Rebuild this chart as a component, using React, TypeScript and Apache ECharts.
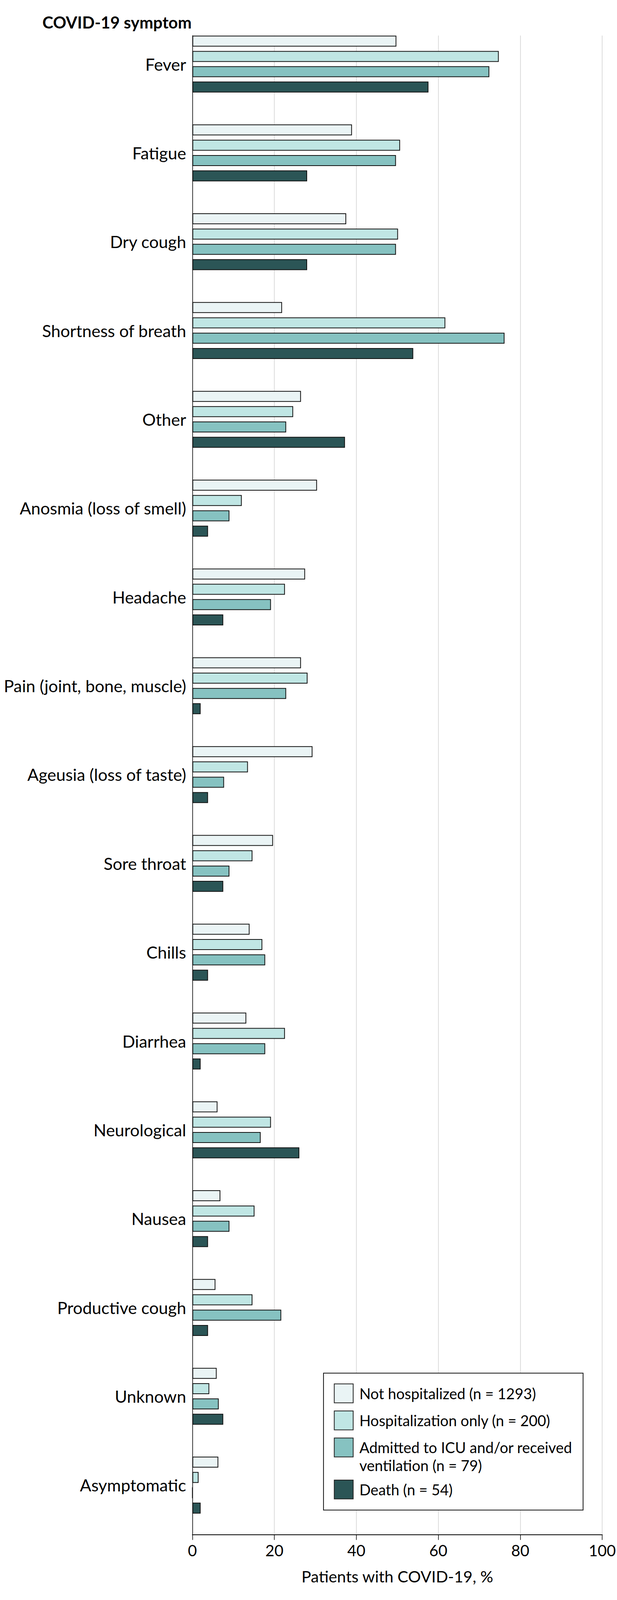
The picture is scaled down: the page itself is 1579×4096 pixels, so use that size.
import React, { useEffect, useRef } from "react";
import * as echarts from "echarts";

const S = 1579 / 1892;

const categories = [
  "Fever",
  "Fatigue",
  "Dry cough",
  "Shortness of breath",
  "Other",
  "Anosmia (loss of smell)",
  "Headache",
  "Pain (joint, bone, muscle)",
  "Ageusia (loss of taste)",
  "Sore throat",
  "Chills",
  "Diarrhea",
  "Neurological",
  "Nausea",
  "Productive cough",
  "Unknown",
  "Asymptomatic",
];

const notHospitalized = [49.6, 38.8, 37.4, 21.8, 26.4, 30.3, 27.4, 26.4, 29.2, 19.6, 13.9, 13.1, 6.1, 6.8, 5.6, 5.9, 6.3];
const hospitalizationOnly = [74.5, 50.5, 50.0, 61.5, 24.5, 12.0, 22.5, 28.0, 13.5, 14.6, 17.0, 22.5, 19.1, 15.1, 14.6, 4.1, 1.5];
const icuOrVentilation = [72.2, 49.5, 49.5, 75.9, 22.8, 9.0, 19.1, 22.8, 7.7, 9.0, 17.7, 17.7, 16.6, 9.0, 21.6, 6.4, 0];
const death = [57.4, 27.9, 27.9, 53.7, 37.1, 3.8, 7.5, 2.0, 3.8, 7.5, 3.8, 2.0, 26.0, 3.8, 3.8, 7.5, 2.0];

const seriesNames = [
  "Not hospitalized (n = 1293)",
  "Hospitalization only (n = 200)",
  "Admitted to ICU and/or received ventilation (n = 79)",
  "Death (n = 54)",
];
const legendLines = [
  ["Not hospitalized (n = 1293)"],
  ["Hospitalization only (n = 200)"],
  ["Admitted to ICU and/or received", "ventilation (n = 79)"],
  ["Death (n = 54)"],
];
const colors = ["#eaf4f5", "#c0e6e4", "#86c2c1", "#2b5556"];

const xTicks = { min: 0, max: 100, interval: 20 };
const xAxisTitle = "Patients with COVID-19, %";
const yAxisTitle = "COVID-19 symptom";

const FONT = "Lato, 'Noto Sans', sans-serif";

export default function App() {
  const ref = useRef<HTMLDivElement>(null);

  useEffect(() => {
    document.body.style.margin = "0";
    if (!ref.current) return;
    const chart = echarts.init(ref.current, undefined, { renderer: "svg" });

    const plotLeft = 590 * S;
    const plotRight = 1579 - 1851 * S;

    const allData = [notHospitalized, hospitalizationOnly, icuOrVentilation, death];

    const boxX = 992 * S;
    const boxY = 4212 * S;
    const boxW = (1788 - 992) * S;
    const boxH = (4632 - 4212) * S;
    const swX = 1025 * S;
    const sw = 58 * S;
    const swTops = [4245, 4328, 4411, 4540].map((v) => v * S);
    const txtX = 1102 * S;
    const lineGap = 55 * S;
    const legendGraphics: any[] = [
      {
        type: "rect",
        shape: { x: boxX, y: boxY, width: boxW, height: boxH },
        style: { fill: "#fff", stroke: "#111", lineWidth: 2 },
        z: 10,
      },
    ];
    legendLines.forEach((lines, i) => {
      legendGraphics.push({
        type: "rect",
        shape: { x: swX, y: swTops[i], width: sw, height: sw },
        style: { fill: colors[i], stroke: "#222", lineWidth: 2 },
        z: 11,
      });
      lines.forEach((ln, j) => {
        legendGraphics.push({
          type: "text",
          x: txtX,
          y: swTops[i] + sw / 2 + j * lineGap,
          style: {
            text: ln,
            fill: "#000",
            fontSize: 38,
            fontFamily: FONT,
            align: "left",
            verticalAlign: "middle",
          },
          z: 11,
        });
      });
    });

    const option: any = {
      animation: false,
      backgroundColor: "#fff",
      graphic: [
        {
          type: "text",
          x: 130 * S,
          y: 68.5 * S,
          style: {
            text: yAxisTitle,
            fill: "#000",
            fontSize: 42,
            fontWeight: "bold",
            fontFamily: FONT,
            align: "left",
            verticalAlign: "middle",
          },
        },
        ...legendGraphics,
      ],
      grid: [
        { left: plotLeft, right: plotRight, top: 109 * S, bottom: 4096 - 4707 * S },
        { left: plotLeft, right: plotRight, top: 60.3 * S, bottom: 4096 - 4691.7 * S },
      ],
      xAxis: [
        {
          gridIndex: 0,
          type: "value",
          min: xTicks.min,
          max: xTicks.max,
          interval: xTicks.interval,
          axisLine: { show: true, onZero: false, lineStyle: { color: "#000", width: 2.2 } },
          axisTick: { show: true, length: 14, lineStyle: { color: "#000", width: 1.5 } },
          axisLabel: { fontSize: 40, fontFamily: FONT, color: "#000", margin: 21 },
          splitLine: { show: true, lineStyle: { color: "#d6d6d6", width: 1.7 } },
          name: xAxisTitle,
          nameLocation: "middle",
          nameGap: 87,
          nameTextStyle: { fontSize: 41, fontFamily: FONT, color: "#000" },
        },
        {
          gridIndex: 1,
          type: "value",
          min: xTicks.min,
          max: xTicks.max,
          show: false,
        },
      ],
      yAxis: [
        {
          gridIndex: 0,
          type: "value",
          min: 0,
          max: 1,
          axisLine: { show: true, onZero: false, lineStyle: { color: "#000", width: 1.5 } },
          axisTick: { show: false },
          axisLabel: { show: false },
          splitLine: { show: false },
        },
        {
          gridIndex: 1,
          type: "category",
          inverse: true,
          data: categories,
          axisLine: { show: false },
          axisTick: { show: false },
          axisLabel: { fontSize: 43, fontFamily: FONT, color: "#000", margin: 16 },
          splitLine: { show: false },
        },
      ],
      series: allData.map((d, i) => ({
        name: seriesNames[i],
        type: "bar",
        xAxisIndex: 1,
        yAxisIndex: 1,
        data: d,
        barWidth: 28,
        barGap: "40%",
        itemStyle: { color: colors[i], borderColor: "#111", borderWidth: 2 },
        z: 3,
      })),
    };

    chart.setOption(option);
    return () => chart.dispose();
  }, []);

  return (
    <div
      ref={ref}
      style={{ position: "absolute", left: 0, top: 0, width: 1579, height: 4096 }}
    />
  );
}
